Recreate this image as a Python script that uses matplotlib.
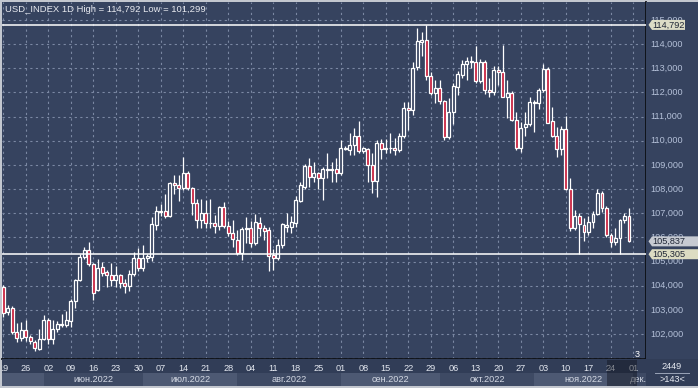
import numpy as np
import matplotlib
matplotlib.use("Agg")
import matplotlib.pyplot as plt
from matplotlib.patches import Polygon, Rectangle

plt.rcParams['font.family'] = ['Liberation Sans', 'DejaVu Sans']

# daily OHLC, 19 May .. 30 Nov 2022
opens = [103.95, 102.92, 103.08, 102.10, 101.82, 102.15, 101.90, 101.68, 101.40, 101.80,
         102.60, 101.80, 102.20, 102.38, 102.38, 102.55, 103.37, 104.24, 105.20, 105.50,
         104.90, 103.82, 104.78, 104.55, 104.44, 104.24, 104.44, 104.10, 104.00, 104.50,
         105.13, 104.72, 105.13, 105.17, 106.50, 107.06, 107.09, 106.90, 108.24, 108.17,
         108.03, 108.65, 108.03, 107.44, 106.72, 107.02, 106.58, 106.58, 106.48, 107.24,
         106.47, 106.17, 105.89, 105.37, 106.33, 106.41, 105.75, 106.60, 106.37, 106.30,
         105.27, 105.13, 105.68, 106.44, 106.44, 106.58, 107.52, 108.07, 108.95, 108.51,
         108.65, 108.44, 108.79, 108.83, 108.83, 108.65, 109.66, 109.61, 109.82, 110.21,
         109.57, 109.66, 109.00, 108.33, 109.89, 109.66, 109.70, 109.68, 109.60, 110.20,
         111.37, 111.27, 113.06, 114.10, 114.17, 112.69, 111.96, 112.17, 111.64, 110.17,
         111.20, 112.23, 112.72, 113.16, 113.25, 113.27, 112.47, 113.27, 112.10, 112.03,
         112.92, 112.83, 111.82, 111.96, 110.86, 109.68, 110.58, 110.69, 111.55, 111.55,
         112.10, 112.95, 110.83, 110.20, 109.64, 110.47, 107.99, 106.38, 106.88, 106.51,
         106.24, 106.65, 106.97, 107.82, 107.20, 106.10, 105.82, 105.96, 106.72, 106.88]
highs = [104.05, 103.20, 103.15, 102.46, 102.50, 102.60, 101.98, 101.75, 102.20, 102.80,
         102.65, 102.60, 102.55, 102.85, 102.95, 103.45, 104.30, 105.30, 105.60, 105.80,
         104.95, 105.10, 105.00, 104.65, 104.95, 104.80, 104.50, 104.30, 104.65, 105.40,
         105.55, 105.70, 105.30, 106.83, 107.30, 107.40, 107.80, 108.30, 108.60, 108.60,
         109.34, 108.75, 108.10, 107.60, 107.60, 107.55, 107.60, 106.93, 107.30, 107.48,
         106.70, 106.72, 106.30, 106.44, 106.83, 106.70, 106.97, 106.83, 106.50, 106.44,
         105.51, 105.95, 106.60, 106.99, 106.90, 107.70, 108.30, 109.05, 109.27, 109.10,
         108.72, 108.90, 109.48, 109.13, 109.30, 110.03, 109.80, 110.30, 110.54, 110.81,
         109.75, 109.71, 109.48, 110.03, 110.07, 110.07, 110.30, 110.10, 110.30, 111.60,
         111.61, 113.27, 114.65, 114.50, 114.79, 112.85, 112.51, 112.50, 111.70, 111.75,
         112.40, 112.90, 113.35, 113.48, 113.50, 113.93, 113.40, 113.35, 112.60, 113.10,
         113.10, 113.96, 112.50, 112.05, 111.20, 110.76, 111.20, 111.80, 111.70, 112.20,
         113.17, 113.06, 111.38, 110.55, 110.60, 111.02, 108.44, 107.15, 107.00, 106.79,
         106.90, 107.10, 107.99, 107.90, 107.30, 106.17, 106.40, 106.75, 107.00, 107.20]
lows = [102.70, 102.80, 102.00, 101.67, 101.70, 101.70, 101.60, 101.30, 101.35, 101.75,
        101.60, 101.60, 102.10, 102.30, 102.30, 102.30, 103.10, 104.20, 105.10, 104.80,
        103.40, 103.80, 104.40, 103.95, 104.00, 103.96, 103.90, 103.70, 103.80, 104.40,
        104.60, 104.60, 105.00, 105.03, 106.30, 106.90, 106.80, 106.85, 107.80, 107.50,
        107.95, 107.95, 106.93, 106.40, 106.40, 106.40, 106.40, 106.17, 106.30, 106.38,
        106.05, 105.62, 105.27, 105.06, 105.75, 105.60, 105.70, 106.06, 105.90, 104.60,
        104.65, 105.05, 105.55, 106.24, 106.20, 106.45, 107.48, 108.00, 108.07, 108.30,
        108.00, 107.55, 108.44, 108.30, 108.30, 108.58, 109.60, 109.40, 109.41, 109.50,
        109.50, 108.30, 107.82, 107.68, 109.24, 109.50, 109.48, 109.40, 109.55, 110.10,
        110.44, 111.06, 112.92, 113.50, 112.51, 111.90, 111.55, 111.50, 110.03, 110.07,
        110.70, 111.90, 112.60, 112.51, 113.00, 112.40, 112.40, 111.95, 111.80, 111.90,
        112.30, 111.80, 110.95, 110.80, 109.60, 109.52, 110.20, 110.60, 110.37, 111.30,
        112.00, 110.72, 110.14, 109.34, 109.40, 107.96, 106.28, 106.30, 105.31, 105.86,
        106.10, 106.40, 106.93, 107.05, 106.00, 105.62, 105.70, 105.31, 106.60, 105.79]
closes = [102.87, 103.08, 102.10, 101.85, 102.15, 101.90, 101.70, 101.42, 101.80, 102.58,
          101.80, 102.20, 102.42, 102.42, 102.58, 103.37, 104.24, 105.20, 105.50, 104.90,
          103.70, 104.74, 104.53, 104.45, 104.24, 104.44, 104.10, 103.98, 104.50, 105.13,
          104.72, 105.13, 105.23, 106.55, 107.09, 107.10, 106.90, 108.26, 108.17, 108.03,
          108.65, 108.03, 107.44, 106.72, 107.02, 106.58, 106.60, 106.48, 107.24, 106.47,
          106.17, 105.92, 105.37, 106.33, 106.41, 105.75, 106.62, 106.37, 106.28, 105.24,
          105.13, 105.68, 106.54, 106.51, 106.65, 107.55, 108.17, 108.95, 108.51, 108.65,
          108.44, 108.82, 108.83, 108.80, 108.65, 109.68, 109.71, 109.82, 110.21, 109.57,
          109.68, 109.00, 108.33, 109.89, 109.66, 109.70, 109.68, 109.60, 110.20, 111.37,
          111.27, 112.99, 114.12, 114.17, 112.69, 111.96, 112.17, 111.64, 110.17, 111.20,
          112.26, 112.75, 113.16, 113.30, 113.30, 112.47, 113.27, 112.10, 112.03, 112.92,
          112.83, 111.82, 111.96, 110.86, 109.68, 110.54, 110.68, 111.61, 111.60, 112.10,
          112.95, 110.75, 110.20, 109.64, 110.47, 107.99, 106.38, 106.88, 106.55, 106.24,
          106.65, 106.97, 107.82, 107.20, 106.10, 105.82, 105.96, 106.72, 106.88, 105.84]

day_labels = ["19", "26", "02", "09", "16", "23", "30", "07", "14", "21", "28", "04", "11", "18", "25",
              "01", "08", "15", "22", "29", "06", "13", "20", "27", "03", "10", "17", "24", "01"]
month_names = ["", "июн.2022", "июл.2022", "авг.2022", "сен.2022", "окт.2022", "ноя.2022", "дек.2022"]
month_starts = [-1, 9, 31, 52, 75, 97, 118, 140]
price_levels = list(range(102, 116))
hi_line = 114.792
lo_line = 105.305
last_price = 105.837

W, H = 698, 388
fig = plt.figure(figsize=(W / 100, H / 100), dpi=100, facecolor="#c3c7cf")


def px_axes(x0, y0, x1, y1):
    return fig.add_axes([x0 / W, 1 - y1 / H, (x1 - x0) / W, (y1 - y0) / H])


BG = "#36435f"
BAND = "#313d57"
RED = "#c81e3c"
GRID = "#7b88a3"
xlim = (-0.3, 142.8)
ylim = (100.97, 115.74)

# ---- main plot
ax = px_axes(2, 2, 646, 359)
ax.set_facecolor(BG)
ax.set_xlim(xlim)
ax.set_ylim(ylim)
ax.set_xticks(np.arange(0, 5 * len(day_labels), 5))
ax.set_yticks(price_levels + [101])
ax.grid(True, color=GRID, linestyle=(0, (2, 3)), lw=0.8)
ax.tick_params(length=0, labelbottom=False, labelleft=False)
for s in ["left", "top"]:
    ax.spines[s].set_visible(False)
for s in ["right", "bottom"]:
    ax.spines[s].set_color("#0d0f14")
    ax.spines[s].set_linewidth(1.3)

n = np.arange(len(closes))
o = np.array(opens)
c = np.array(closes)
up = c >= o
body_lo = np.minimum(o, c)
body_h = np.maximum(np.abs(c - o), 0.035)
ax.vlines(n, lows, highs, color="white", lw=0.9, zorder=2)
ax.bar(n[up], body_h[up], bottom=body_lo[up], width=0.62, facecolor=BG,
       edgecolor="white", lw=0.9, zorder=3)
ax.bar(n[~up], body_h[~up], bottom=body_lo[~up], width=0.62, facecolor=RED,
       edgecolor="white", lw=0.9, zorder=3)

ax.axhline(hi_line, color="white", lw=1.1, zorder=4)
ax.axhline(lo_line, color="white", lw=1.1, zorder=4)

ax.text(0.004, 0.992, "USD_INDEX 1D High = 114,792 Low = 101,299", transform=ax.transAxes,
        ha="left", va="top", color="#e8eaf0", fontsize=6.8)
ax.text(len(closes) + 0.8, 101.17, "3", color="white", fontsize=6.5, ha="center", va="center")

# ---- right price scale
axr = px_axes(646, 2, 698, 359)
axr.set_facecolor(BG)
axr.set_xlim(0, 52)
axr.set_ylim(ylim)
axr.set_xticks([])
axr.set_yticks([])
for s in axr.spines.values():
    s.set_visible(False)
for v in price_levels:
    axr.text(4, v, f"{v},000", ha="left", va="center", color="#b4c0d8", fontsize=6.6)

hh = 5 / 24.17
for val, right, fc in [(hi_line, 39, "#dcdcc6"), (last_price, 52, "#c6cad2"), (lo_line, 52, "#dcdcc2")]:
    axr.add_patch(Polygon([(2.5, val), (6, val + hh), (right, val + hh), (right, val - hh), (6, val - hh)],
                          closed=True, facecolor=fc, edgecolor="none", zorder=5))
    axr.text(6.5, val, f"{val:.3f}".replace(".", ","), ha="left", va="center",
             color="#1e2535", fontsize=6.6, zorder=6)

# ---- date band
axb = px_axes(2, 359, 646, 386)
axb.set_facecolor(BAND)
axb.set_xlim(xlim)
axb.set_ylim(0, 1)
axb.set_xticks([])
axb.set_yticks([])
for s in axb.spines.values():
    s.set_visible(False)
for i, lab in enumerate(day_labels):
    axb.text(5 * i, 0.66, lab, ha="center", va="center", color="#e4e8f0", fontsize=6.6, clip_on=True)
edges = month_starts + [150]
for i, name in enumerate(month_names):
    a, b = edges[i], edges[i + 1]
    axb.add_patch(Rectangle((a, 0), b - a, 0.5, facecolor="#4d5973" if i % 2 == 0 else "#3e4a64",
                            edgecolor="none", zorder=1))
    if name:
        axb.text((a + b) / 2 if b < 150 else a + 0.5 * (xlim[1] - a) + 2, 0.25, name, ha="center",
                 va="center", color="#d4d9e4", fontsize=6.6, zorder=2, clip_on=True)
axb.add_patch(Rectangle((134.2, 0), 6.6, 0.95, facecolor="#10141e", alpha=0.45,
                        edgecolor="none", zorder=3))

# ---- corner box
axc = px_axes(646, 359, 698, 386)
axc.set_facecolor(BAND)
axc.set_xlim(0, 1)
axc.set_ylim(0, 1)
axc.set_xticks([])
axc.set_yticks([])
for s in axc.spines.values():
    s.set_visible(False)
axc.text(0.5, 0.72, "2449", ha="center", va="center", color="#e4e8f0", fontsize=6.6)
axc.text(0.5, 0.24, ">143<", ha="center", va="center", color="#e4e8f0", fontsize=6.6)
axc.plot([0.18, 0.82], [0.47, 0.47], color="#9aa4b8", lw=0.7)

fig.savefig("out.png", dpi=100, facecolor=fig.get_facecolor())
